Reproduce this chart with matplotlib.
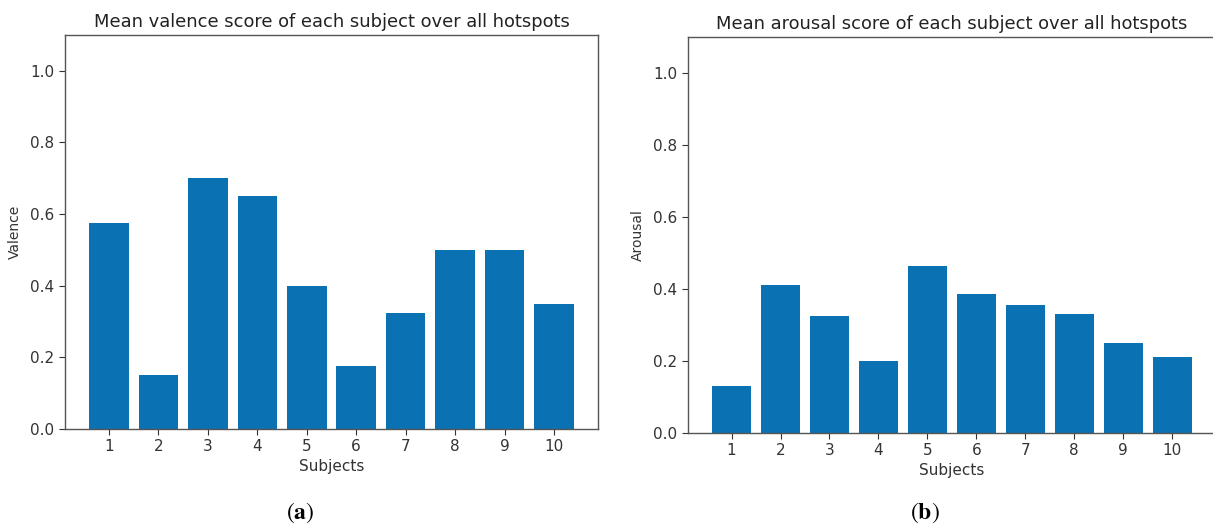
import numpy as np
import matplotlib
matplotlib.use("Agg")
import matplotlib.pyplot as plt

# values
subjects = [1, 2, 3, 4, 5, 6, 7, 8, 9, 10]
valence = [0.575, 0.15, 0.70, 0.65, 0.40, 0.175, 0.325, 0.50, 0.50, 0.35]
arousal = [0.13, 0.41, 0.325, 0.20, 0.465, 0.385, 0.355, 0.33, 0.25, 0.21]
y_ticks = [0.0, 0.2, 0.4, 0.6, 0.8, 1.0]

BAR = "#0a72b3"
plt.rcParams["font.family"] = ["DejaVu Sans"]
plt.rcParams["mathtext.fontset"] = "stix"

fig = plt.figure(figsize=(12.13, 5.28), dpi=100)
ax_a = fig.add_axes([0.0536, 0.1875, 0.4394, 0.7465])
ax_b = fig.add_axes([0.5672, 0.1800, 0.4350, 0.7500])

panels = [
    (ax_a, valence, "Valence", "Mean valence score of each subject over all hotspots"),
    (ax_b, arousal, "Arousal", "Mean arousal score of each subject over all hotspots"),
]
for ax, vals, ylab, title in panels:
    ax.bar(subjects, vals, width=0.8, color=BAR)
    ax.set_ylim(0, 1.1)
    ax.set_xlim(0.11, 10.89)
    ax.set_xticks(subjects)
    ax.set_yticks(y_ticks)
    ax.set_yticklabels([f"{v:.1f}" for v in y_ticks])
    ax.set_title(title, fontsize=12.9, pad=6, color="#222222")
    ax.set_xlabel("Subjects", fontsize=11, color="#333333", labelpad=3)
    ax.set_ylabel(ylab, fontsize=10, color="#333333", labelpad=6)
    ax.tick_params(labelsize=11, colors="#333333", length=4)
    for sp in ax.spines.values():
        sp.set_color("#555555")
        sp.set_linewidth(1.0)

fig.text(0.2473, 0.028, r"$(\mathbf{a})$", ha="center", va="center", fontsize=17)
fig.text(0.7626, 0.028, r"$(\mathbf{b})$", ha="center", va="center", fontsize=17)

fig.savefig("out.png", dpi=100)
